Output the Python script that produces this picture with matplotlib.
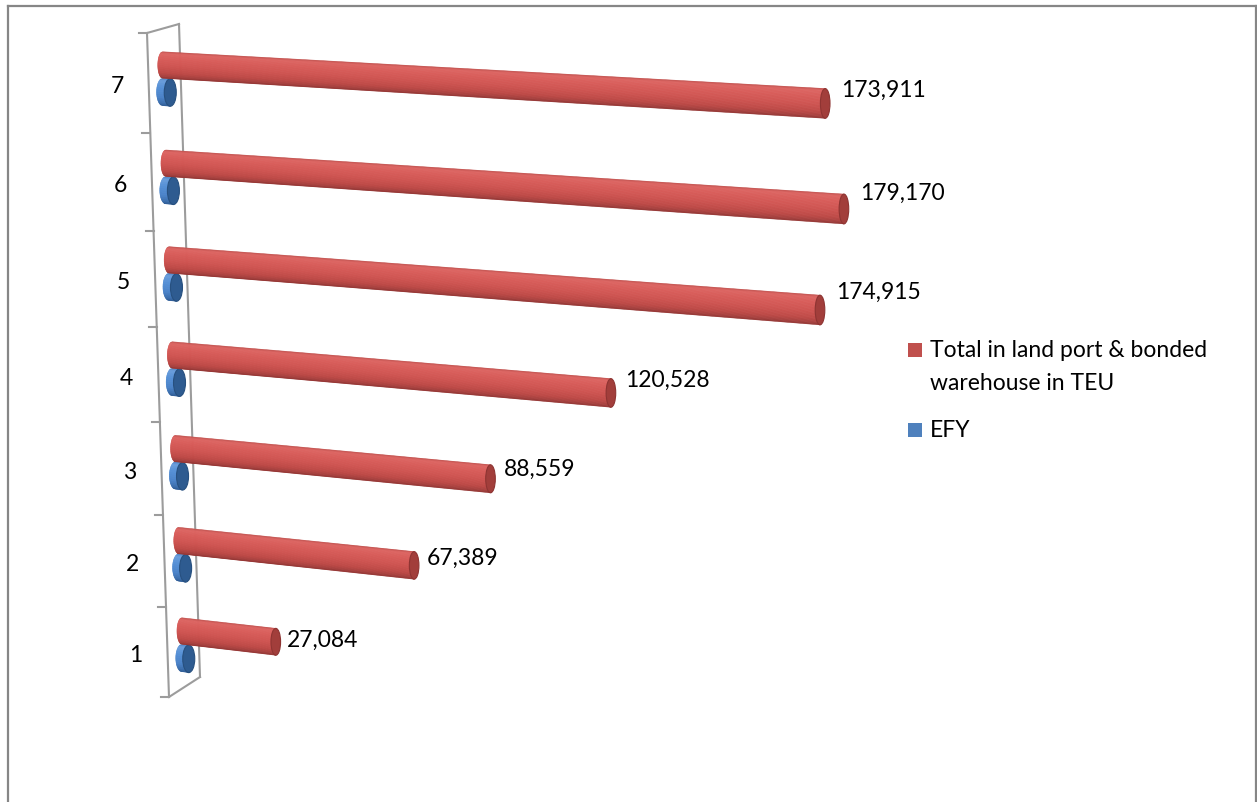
import numpy as np
import matplotlib
matplotlib.use("Agg")
import matplotlib.pyplot as plt
from matplotlib.patches import Polygon, Ellipse, Rectangle
from matplotlib.colors import to_rgb

# ---------------- data ----------------
categories = ["1", "2", "3", "4", "5", "6", "7"]
total_teu = [27084, 67389, 88559, 120528, 174915, 179170, 173911]
efy = [2003, 2004, 2005, 2006, 2007, 2008, 2009]   # tiny bars, values estimated
series_names = ["Total in land port & bonded\nwarehouse in TEU", "EFY"]
series_colors = ["#C0504D", "#4F81BD"]

FONT = ["Lato", "DejaVu Sans"]
FS = 16.5
W, H = 1257, 802
n = len(categories)

fig = plt.figure(figsize=(W / 100, H / 100), dpi=100)
ax = fig.add_axes([0, 0, 1, 1])
ax.set_xlim(0, W)
ax.set_ylim(H, 0)
ax.axis("off")

# ------------- 3-D like projection of the (value, category) plane -------------
def bar_origin(i):
    t = i / (n - 1)
    x = 181.8 - 19.2 * t
    y = 631 + (65 - 631) * t + 28 * t * (1 - t)
    return x, y

def px_per_unit(i):
    t = i / (n - 1)
    return 0.00347 + 0.00034 * (3 * t ** 2 - 2 * t ** 3)

def slope(i):
    return 0.115 - 0.0095 * i

def project(i, v, dy=0.0):
    x0, y0 = bar_origin(i)
    x = x0 + v * px_per_unit(i)
    y = y0 + dy + slope(i) * (x - x0)
    return x, y

def half_thick(dx):
    return 13.2 + 0.0025 * dx

def shade(stops, s):
    ss = [p for p, _ in stops]
    cols = np.array([to_rgb(c) for _, c in stops])
    return tuple(np.interp(s, ss, cols[:, k]) for k in range(3))

red_side = [(-1.0, "#BF4F4C"), (-0.85, "#DD6663"), (-0.5, "#D95D5A"),
            (0.1, "#CF5451"), (0.6, "#BE4946"), (0.9, "#A5403E"), (1.0, "#923634")]
blue_side = [(-1.0, "#4A7FC0"), (-0.8, "#6A9EDC"), (-0.3, "#5590D6"),
             (0.4, "#4A82C8"), (0.85, "#3A6CAA"), (1.0, "#2F5D95")]

def cylinder(p0, p1, h0, h1, a, stops, cap_color, cap_edge, z, nstrip=40):
    (x0, y0), (x1, y1) = p0, p1
    s = np.linspace(-1, 1, nstrip + 1)
    for k in range(nstrip):
        sa, sb = s[k], s[k + 1]
        poly = [(x0 - a * np.sqrt(max(0, 1 - sa ** 2)), y0 + sa * h0),
                (x1, y1 + sa * h1),
                (x1, y1 + sb * h1),
                (x0 - a * np.sqrt(max(0, 1 - sb ** 2)), y0 + sb * h0)]
        col = shade(stops, (sa + sb) / 2)
        ax.add_patch(Polygon(poly, closed=True, facecolor=col, edgecolor=col,
                             lw=0.4, zorder=z))
    ax.add_patch(Ellipse((x1, y1), 2 * a, 2 * h1, facecolor=cap_color,
                         edgecolor=cap_edge, lw=0.8, zorder=z + 0.5))

# ------------- wall (category axis) -------------
def boundary_y(k):
    t = k / n
    return 697 + (33 - 697) * t + 40 * t * (1 - t)

def front_x(y):
    return 169 + (y - 697) * (147 - 169) / (33 - 697)

wall_col = "#9C9C9C"
lw_wall = 1.5
yb_top, yb_bot = boundary_y(n), boundary_y(0)
ax.plot([front_x(yb_bot), front_x(yb_top)], [yb_bot, yb_top], color=wall_col, lw=lw_wall, zorder=1)
ax.plot([front_x(yb_top) + 32, front_x(yb_bot) + 31], [yb_top - 9, yb_bot - 20], color=wall_col, lw=lw_wall, zorder=1)
ax.plot([front_x(yb_top), front_x(yb_top) + 32], [yb_top, yb_top - 9], color=wall_col, lw=lw_wall, zorder=1)
ax.plot([front_x(yb_bot), front_x(yb_bot) + 31], [yb_bot, yb_bot - 20], color=wall_col, lw=lw_wall, zorder=1)
for k in range(n + 1):
    y = boundary_y(k)
    ax.plot([front_x(y) - 8, front_x(y)], [y, y], color=wall_col, lw=lw_wall, zorder=1)

# category labels
for k, lab in enumerate(categories):
    ym = (boundary_y(k) + boundary_y(k + 1)) / 2 + 2
    ax.text(front_x(ym) - 25, ym + 8.2, lab, ha="right", va="baseline",
            fontsize=FS, family=FONT, color="black")

# ------------- bars -------------
vmax = max(total_teu)
for i in range(n):
    # EFY (blue) series – lower in the group, behind the red one
    b0 = project(i, 0, 27)
    b1 = project(i, efy[i], 27)
    cylinder(b0, b1, 13.6, 13.8, 6.0, blue_side, "#2E5B90", "#27507F", z=3)

    # Total TEU (red) series
    p0 = project(i, 0)
    p1 = project(i, total_teu[i])
    dx = p1[0] - p0[0]
    a = 4.8
    cylinder(p0, p1, half_thick(0), half_thick(dx), a, red_side, "#A23E3B", "#8E3432", z=4)

    # value label
    ly = p0[1] + 0.6 * (p1[1] - p0[1]) + 1
    lx = p1[0] + a + 6 + 5 * total_teu[i] / vmax
    ax.text(lx, ly + 8.2, f"{total_teu[i]:,}", ha="left", va="baseline",
            fontsize=FS, family=FONT, color="black", zorder=6)

# ------------- legend -------------
leg_x, sq = 908, 14
leg_baselines = [357, 437]
for name, col, yb in zip(series_names, series_colors, leg_baselines):
    ax.add_patch(Rectangle((leg_x, yb - sq), sq, sq, facecolor=col, edgecolor="none", zorder=5))
    for j, line in enumerate(name.split("\n")):
        ax.text(leg_x + 22, yb + 33 * j, line, ha="left", va="baseline",
                fontsize=FS, family=FONT, color="black")

# ------------- chart border -------------
bc = "#868686"
ax.plot([8, 8], [H + 5, 6], color=bc, lw=1.6, solid_capstyle="projecting")
ax.plot([8, 1256], [6, 6], color=bc, lw=1.6, solid_capstyle="projecting")
ax.plot([1256, 1256], [6, H + 5], color=bc, lw=1.6, solid_capstyle="projecting")

fig.savefig("out.png", dpi=100)
